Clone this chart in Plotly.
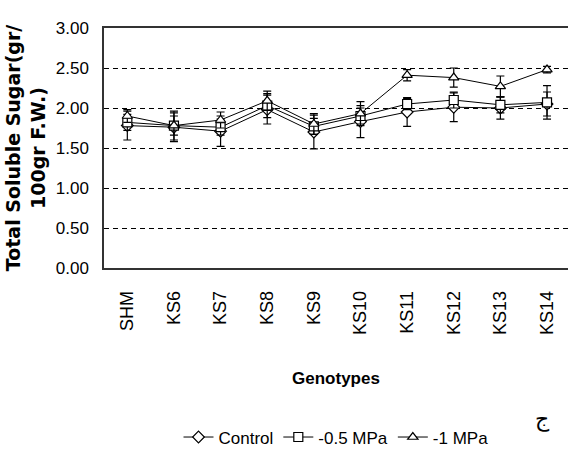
import plotly.graph_objects as go

genotypes = ["SHM", "KS6", "KS7", "KS8", "KS9", "KS10", "KS11", "KS12", "KS13", "KS14"]

control = [1.78, 1.76, 1.71, 1.98, 1.70, 1.83, 1.95, 2.01, 2.00, 2.05]
control_err = [0.18, 0.18, 0.19, 0.18, 0.21, 0.20, 0.18, 0.18, 0.14, 0.15]

mpa_05 = [1.82, 1.78, 1.76, 2.03, 1.77, 1.90, 2.05, 2.10, 2.04, 2.07]
mpa_05_err = [0.10, 0.12, 0.10, 0.15, 0.10, 0.10, 0.07, 0.10, 0.10, 0.21]

mpa_1 = [1.90, 1.78, 1.85, 2.09, 1.80, 1.93, 2.41, 2.38, 2.27, 2.48]
mpa_1_err = [0.08, 0.18, 0.10, 0.12, 0.13, 0.15, 0.07, 0.12, 0.13, 0.04]

y_ticks = [0.0, 0.5, 1.0, 1.5, 2.0, 2.5, 3.0]

SANS = "Liberation Sans, Arial, sans-serif"

series = [
    ("Control", control, control_err, "diamond"),
    ("-0.5 MPa", mpa_05, mpa_05_err, "square"),
    ("-1 MPa", mpa_1, mpa_1_err, "triangle-up"),
]

fig = go.Figure()
for name, vals, errs, sym in series:
    fig.add_trace(go.Scatter(
        x=genotypes, y=vals, name=name, mode="lines+markers",
        line=dict(color="black", width=1),
        marker=dict(symbol=sym, size=9, color="white",
                    line=dict(color="black", width=1.2)),
        error_y=dict(type="data", array=errs, visible=True,
                     color="black", thickness=1.2, width=4),
    ))

fig.update_layout(
    width=568, height=451,
    margin=dict(l=104, r=0, t=28, b=183, autoexpand=False),
    paper_bgcolor="white", plot_bgcolor="white",
    showlegend=True,
    legend=dict(orientation="h", x=0.5, xanchor="center",
                yref="container", y=0.03, yanchor="middle",
                font=dict(family=SANS, size=17, color="black"),
                itemwidth=30, tracegroupgap=0),
    xaxis=dict(
        type="category", range=[-0.5, 9.45],
        showline=True, linecolor="#333", linewidth=1.5, mirror=True,
        showgrid=False, ticks="", tickangle=-90, ticklabelstandoff=14,
        tickfont=dict(family=SANS, size=18, color="black"),
        title=dict(text="<b>Genotypes</b>", standoff=38,
                   font=dict(family=SANS, size=17, color="black")),
    ),
    yaxis=dict(
        range=[0, 3.0], tickvals=y_ticks, tickformat=".2f",
        showline=True, linecolor="#333", linewidth=1.5, mirror=False,
        showgrid=True, gridcolor="black", gridwidth=1, griddash="5px,4px",
        zeroline=False, ticks="", ticklabelstandoff=10,
        tickfont=dict(family=SANS, size=17, color="black"),
        title=dict(text="<b>Total Soluble Sugar(gr/<br>100gr F.W.)</b>", standoff=5,
                   font=dict(family="DejaVu Sans, Arial, sans-serif", size=19, color="black")),
    ),
)

fig.add_annotation(text="ج", xref="paper", yref="paper", x=0.965, y=-0.69,
                   showarrow=False, font=dict(family="DejaVu Sans, sans-serif", size=22, color="black"))

fig.write_html("out.html")
